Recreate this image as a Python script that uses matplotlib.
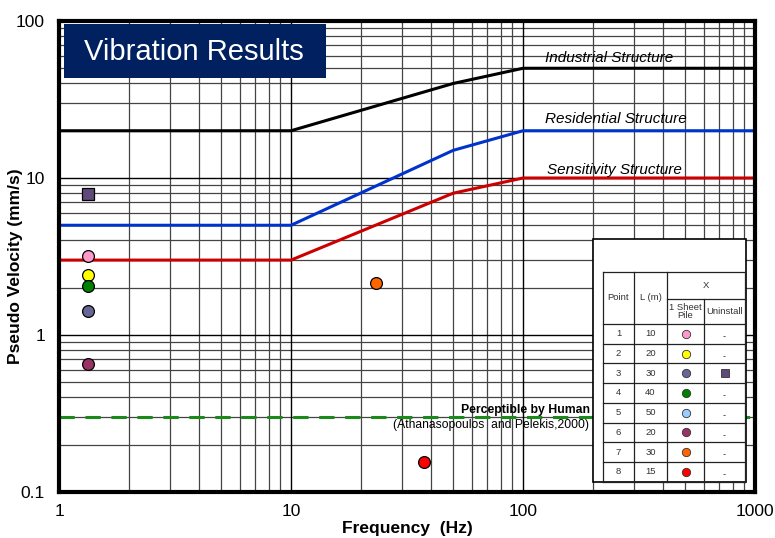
import matplotlib
matplotlib.use("Agg")
import matplotlib.pyplot as plt
from matplotlib.patches import Rectangle
import numpy as np

plt.rcParams['font.family'] = ['Liberation Sans', 'DejaVu Sans']

# ---- data ----
freq_limits = [1, 10, 50, 100, 1000]
industrial = [20, 20, 40, 50, 50]
residential = [5, 5, 15, 20, 20]
sensitivity = [3, 3, 8, 10, 10]
perceptible = 0.3

point_ids = [1, 2, 3, 4, 5, 6, 7, 8]
point_len = [10, 20, 30, 40, 50, 20, 30, 15]
point_colors = ['#FF99CC', '#FFFF00', '#666699', '#008000', '#99CCFF', '#993366', '#FF6600', '#FF0000']
# visible points: (freq, velocity) for 1 sheet pile
pt_freq = [1.33, 1.33, 1.33, 1.33, 1.33, 23.2, 37.4]
pt_vel = [3.18, 2.41, 1.42, 2.05, 0.65, 2.14, 0.155]
pt_col = ['#FF99CC', '#FFFF00', '#666699', '#008000', '#993366', '#FF6600', '#FF0000']
uninstall_freq = [1.33]
uninstall_vel = [7.9]
uninstall_color = '#604A7B'

xticks = [1, 10, 100, 1000]
xticklabels = ['1', '10', '100', '1000']
yticks = [0.1, 1, 10, 100]
yticklabels = ['0.1', '1', '10', '100']

W, H = 775, 538
fig = plt.figure(figsize=(W/100, H/100), dpi=100)
ax = fig.add_axes([59/W, 1-492/H, (755-59)/W, (492-21)/H])
ax.set_xscale('log'); ax.set_yscale('log')
ax.set_xlim(1, 1000); ax.set_ylim(0.1, 100)

# grid
for d in [1, 10, 100]:
    for m in range(2, 10):
        ax.axvline(d*m, color='#444444', lw=0.9, zorder=1)
for d in [0.1, 1, 10]:
    for m in range(2, 10):
        ax.axhline(d*m, color='#444444', lw=0.9, zorder=1)
for v in [10, 100]:
    ax.axvline(v, color='black', lw=1.0, zorder=1)
for v in [1, 10]:
    ax.axhline(v, color='black', lw=1.0, zorder=1)

ax.plot(freq_limits, industrial, color='black', lw=2.2, zorder=3)
ax.plot(freq_limits, residential, color='#0033CC', lw=2.2, zorder=3)
ax.plot(freq_limits, sensitivity, color='#CC0000', lw=2.2, zorder=3)
ax.axhline(perceptible, color='#1a8a1a', lw=2.2, ls=(0, (5, 3.5)), zorder=3)

ax.text(125, 58, 'Industrial Structure', style='italic', fontsize=11, va='center', ha='left', zorder=4)
ax.text(125, 23.8, 'Residential Structure', style='italic', fontsize=11, va='center', ha='left', zorder=4)
ax.text(127, 11.2, 'Sensitivity Structure', style='italic', fontsize=11, va='center', ha='left', zorder=4)
ax.text(194, 0.333, 'Perceptible by Human', fontweight='bold', fontsize=8.8, va='center', ha='right', zorder=4)
ax.text(193, 0.267, '(Athanasopoulos  and Pelekis,2000)', fontsize=8.7, va='center', ha='right', zorder=4)

for f, v, c in zip(pt_freq, pt_vel, pt_col):
    ax.plot([f], [v], 'o', ms=8.5, mfc=c, mec='black', mew=0.9, zorder=5)
ax.plot(uninstall_freq, uninstall_vel, 's', ms=9, mfc=uninstall_color, mec='black', mew=0.9, zorder=5)

ax.set_xticks(xticks); ax.set_xticklabels(xticklabels, fontsize=12.5)
ax.set_yticks(yticks); ax.set_yticklabels(yticklabels, fontsize=12.5)
ax.minorticks_off()
ax.tick_params(axis='x', length=0, pad=9)
ax.tick_params(axis='y', length=0, pad=10)
for s in ax.spines.values():
    s.set_linewidth(3); s.set_color('black'); s.set_zorder(6)
ax.set_xlabel('Frequency  (Hz)', fontweight='bold', fontsize=12.5, va='center')
ax.xaxis.set_label_coords(0.5, (492-528)/471)
ax.set_ylabel('Pseudo Velocity (mm/s)', fontweight='bold', fontsize=12.5, va='center')
ax.yaxis.set_label_coords((16-59)/696, (492-266)/471)

# overlay in pixel coords
ov = fig.add_axes([0, 0, 1, 1], zorder=10)
ov.set_xlim(0, W); ov.set_ylim(H, 0); ov.axis('off')
ov.patch.set_alpha(0)

# title box
ov.add_patch(Rectangle((64, 24), 262, 54, facecolor='#002060', edgecolor='none'))
ov.text(194, 52, 'Vibration Results', color='white', fontsize=21, ha='center', va='center')

# table
ov.add_patch(Rectangle((593, 239), 153, 243, facecolor='white', edgecolor='black', lw=1.2))
cols = [603, 634, 667, 704, 745]
top, hdr2, body = 272, 299, 324
rh = 19.7
bottom = body + 8*rh
lc = '#222222'
for y in [top] + [body + i*rh for i in range(9)]:
    ov.plot([cols[0], cols[-1]], [y, y], color=lc, lw=0.9)
ov.plot([cols[2], cols[4]], [hdr2, hdr2], color=lc, lw=0.9)
for x in [cols[0], cols[1], cols[2], cols[4]]:
    ov.plot([x, x], [top, bottom], color=lc, lw=0.9)
ov.plot([cols[3], cols[3]], [hdr2, bottom], color=lc, lw=0.9)
fs = 6.8
ov.text((cols[0]+cols[1])/2, (top+body)/2, 'Point', fontsize=fs, ha='center', va='center', color='#333333')
ov.text((cols[1]+cols[2])/2, (top+body)/2 - 1, 'L (m)', fontsize=fs, ha='center', va='center', color='#333333')
ov.text((cols[2]+cols[4])/2, (top+hdr2)/2, 'X', fontsize=fs, ha='center', va='center', color='#333333')
ov.text((cols[2]+cols[3])/2, (hdr2+body)/2, '1 Sheet\nPile', fontsize=fs, ha='center', va='center', color='#333333', linespacing=1.0)
ov.text((cols[3]+cols[4])/2, (hdr2+body)/2, 'Uninstall', fontsize=fs, ha='center', va='center', color='#333333')
for i, (pid, L, c) in enumerate(zip(point_ids, point_len, point_colors)):
    yc = body + (i+0.5)*rh
    ov.text((cols[0]+cols[1])/2, yc, str(pid), fontsize=fs, ha='center', va='center', color='#333333')
    ov.text((cols[1]+cols[2])/2, yc, str(L), fontsize=fs, ha='center', va='center', color='#333333')
    ov.plot([(cols[2]+cols[3])/2], [yc], 'o', ms=6, mfc=c, mec='#333333', mew=0.6)
    if pid == 3:
        ov.plot([(cols[3]+cols[4])/2], [yc], 's', ms=6, mfc=uninstall_color, mec='#333333', mew=0.6)
    else:
        ov.text((cols[3]+cols[4])/2, yc + 3, '-', fontsize=fs, ha='center', va='center', color='#333333')

fig.savefig('out.png', dpi=100)
